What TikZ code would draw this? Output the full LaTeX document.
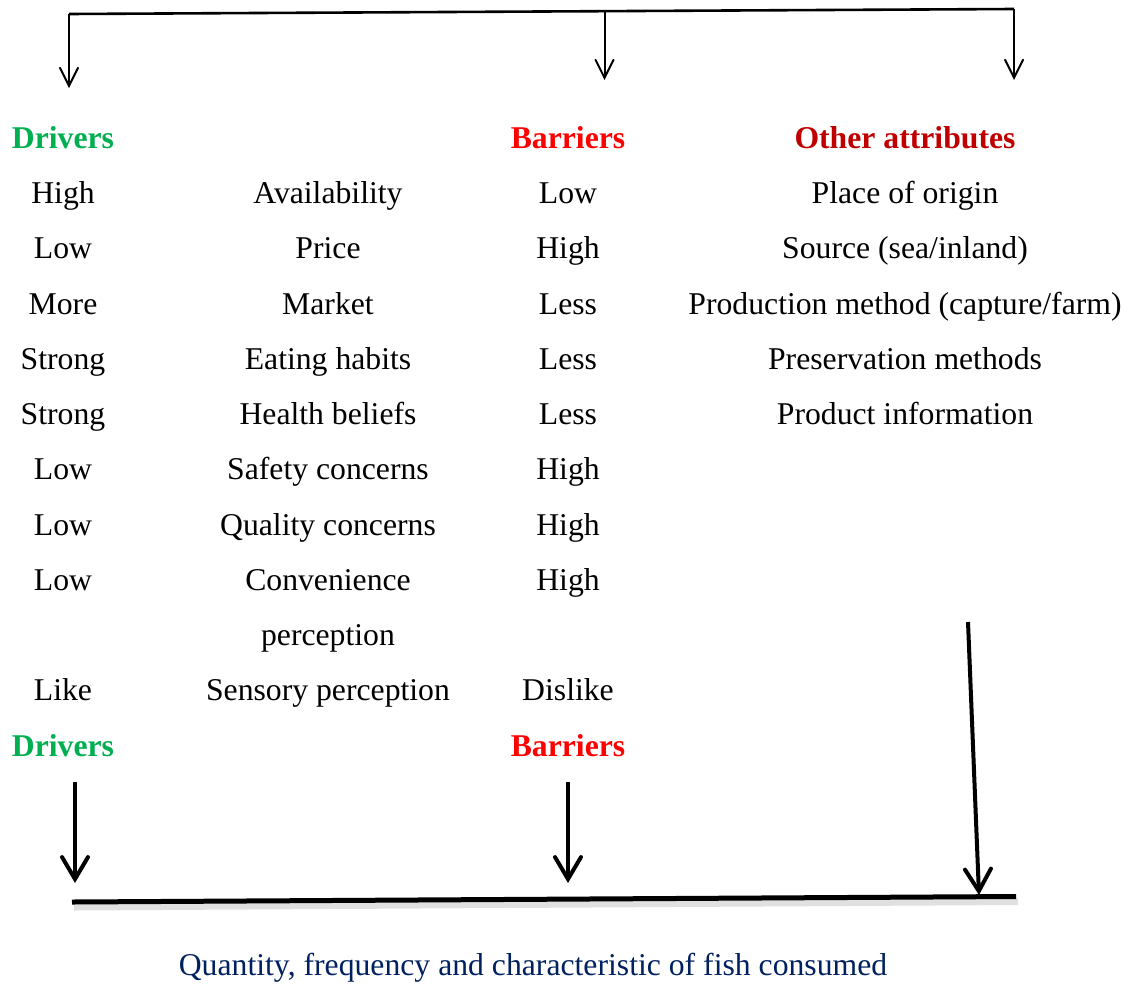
\documentclass[tikz,border=0pt]{standalone}
\usepackage{fontspec}
\setmainfont{Liberation Serif}
\usetikzlibrary{arrows.meta}
\definecolor{drvgreen}{HTML}{00B050}
\definecolor{barred}{HTML}{FF0000}
\definecolor{othred}{HTML}{C00000}
\definecolor{navy}{HTML}{002060}
\tikzset{
  txt/.style={anchor=base, inner sep=0pt, font=\fontsize{31.7}{38}\selectfont},
  head/.style={txt, font=\fontsize{31.7}{38}\selectfont\bfseries},
  thinarrow/.style={line width=2pt, -{Straight Barb[length=18pt,width=18pt,line cap=round]}},
  thickarrow/.style={line width=4pt, -{Straight Barb[length=22pt,width=26pt,line cap=round]}},
}
\begin{document}
\begin{tikzpicture}[x=1pt,y=-1pt]
\useasboundingbox (0,0) rectangle (1131,983);
% column x positions
\def\ca{63}\def\cb{328}\def\cc{568}\def\cd{905}
% headers
\node[head, text=drvgreen] (hd1) at (\ca,148.3) {Drivers};
\node[head, text=barred] (hb1) at (\cc,148.3) {Barriers};
\node[head, text=othred] (ho1) at (\cd,148.3) {Other attributes};
% rows
\node[txt] (a1) at (\ca,203.5) {High};
\node[txt] (b1) at (\cb,203.5) {Availability};
\node[txt] (c1) at (\cc,203.5) {Low};
\node[txt] (d1) at (\cd,203.5) {Place of origin};
\node[txt] (a2) at (\ca,258.8) {Low};
\node[txt] (b2) at (\cb,258.8) {Price};
\node[txt] (c2) at (\cc,258.8) {High};
\node[txt] (d2) at (\cd,258.8) {Source (sea/inland)};
\node[txt] (a3) at (\ca,314) {More};
\node[txt] (b3) at (\cb,314) {Market};
\node[txt] (c3) at (\cc,314) {Less};
\node[txt] (d3) at (\cd,314) {Production method (capture/farm)};
\node[txt] (a4) at (\ca,369.3) {Strong};
\node[txt] (b4) at (\cb,369.3) {Eating habits};
\node[txt] (c4) at (\cc,369.3) {Less};
\node[txt] (d4) at (\cd,369.3) {Preservation methods};
\node[txt] (a5) at (\ca,424.5) {Strong};
\node[txt] (b5) at (\cb,424.5) {Health beliefs};
\node[txt] (c5) at (\cc,424.5) {Less};
\node[txt] (d5) at (\cd,424.5) {Product information};
\node[txt] (a6) at (\ca,479.8) {Low};
\node[txt] (b6) at (\cb,479.8) {Safety concerns};
\node[txt] (c6) at (\cc,479.8) {High};
\node[txt] (a7) at (\ca,535) {Low};
\node[txt] (b7) at (\cb,535) {Quality concerns};
\node[txt] (c7) at (\cc,535) {High};
\node[txt] (a8) at (\ca,590.3) {Low};
\node[txt] (b8) at (\cb,590.3) {Convenience};
\node[txt] (c8) at (\cc,590.3) {High};
\node[txt] (b8b) at (\cb,645.5) {perception};
\node[txt] (a9) at (\ca,700.8) {Like};
\node[txt] (b9) at (\cb,700.8) {Sensory perception};
\node[txt] (c9) at (\cc,700.8) {Dislike};
\node[head, text=drvgreen] (hd2) at (\ca,756) {Drivers};
\node[head, text=barred] (hb2) at (\cc,756) {Barriers};
\node[txt, text=navy] (out) at (533,975) {Quantity, frequency and characteristic of fish consumed};
% top connector
\coordinate (tl) at (69,14);
\coordinate (tm) at (604.5,11.3);
\coordinate (tr) at (1014,9);
\coordinate (tlE) at (69,88);
\coordinate (tmE) at (604.5,80);
\coordinate (trE) at (1014,80);
\draw[line width=2.6pt, line cap=butt] (tl) -- (tr);
\draw[thinarrow] (tl) -- (tlE);
\draw[thinarrow] (tm) -- (tmE);
\draw[thinarrow] (tr) -- (trE);
% bottom connector
\coordinate (bl) at (72,902);
\coordinate (br) at (1016,896.5);
\draw[line width=7pt, black!12, line cap=butt] (74,907) -- (1018,901.5);
\draw[line width=5pt, line cap=butt] (bl) -- (br);
\coordinate (s1) at (75,782);
\coordinate (e1) at (75,883);
\coordinate (s2) at (568,782);
\coordinate (e2) at (568,883);
\coordinate (s3) at (968,622);
\coordinate (e3) at (979,895);
\draw[thickarrow] (s1) -- (e1);
\draw[thickarrow] (s2) -- (e2);
\draw[thickarrow] (s3) -- (e3);
\end{tikzpicture}
\end{document}
